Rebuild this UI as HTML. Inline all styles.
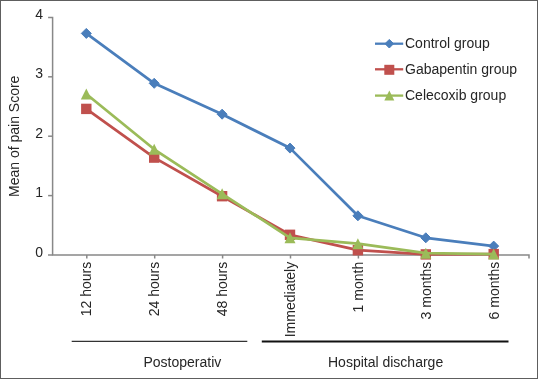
<!DOCTYPE html>
<html><head><meta charset="utf-8"><style>
html,body{margin:0;padding:0;background:#fff;}
body{width:538px;height:379px;overflow:hidden;position:relative;}
svg{position:absolute;left:0;top:0;will-change:transform;}
text{font-family:"Liberation Sans",sans-serif;fill:#262626;}
</style></head><body>
<svg width="538" height="379" viewBox="0 0 538 379">
<rect x="0.5" y="0.5" width="537" height="378" fill="#fff" stroke="#5e5e5e" stroke-width="1"/>
<path d="M48.1 17.4H52.6V255.0H529V258.5" fill="none" stroke="#888" stroke-width="1.5"/>
<path d="M48.1 195.6H52.6" stroke="#888" stroke-width="1.5"/>
<path d="M48.1 136.2H52.6" stroke="#888" stroke-width="1.5"/>
<path d="M48.1 76.8H52.6" stroke="#888" stroke-width="1.5"/>
<path d="M48 255.0H52.6" stroke="#888" stroke-width="1.5"/>
<path d="M86.8 255.0V258.5" stroke="#888" stroke-width="1.5"/>
<path d="M154.7 255.0V258.5" stroke="#888" stroke-width="1.5"/>
<path d="M222.6 255.0V258.5" stroke="#888" stroke-width="1.5"/>
<path d="M290.5 255.0V258.5" stroke="#888" stroke-width="1.5"/>
<path d="M358.4 255.0V258.5" stroke="#888" stroke-width="1.5"/>
<path d="M426.3 255.0V258.5" stroke="#888" stroke-width="1.5"/>
<path d="M494.2 255.0V258.5" stroke="#888" stroke-width="1.5"/>
<text x="43" y="256.6" text-anchor="end" font-size="14">0</text>
<text x="43" y="197.2" text-anchor="end" font-size="14">1</text>
<text x="43" y="137.8" text-anchor="end" font-size="14">2</text>
<text x="43" y="78.4" text-anchor="end" font-size="14">3</text>
<text x="43" y="19.0" text-anchor="end" font-size="14">4</text>
<text transform="translate(19.2 136.3) rotate(-90)" text-anchor="middle" font-size="14">Mean of pain Score</text>
<text transform="translate(91.1 261.8) rotate(-90)" text-anchor="end" font-size="14">12 hours</text>
<text transform="translate(159.0 261.8) rotate(-90)" text-anchor="end" font-size="14">24 hours</text>
<text transform="translate(226.9 261.8) rotate(-90)" text-anchor="end" font-size="14">48 hours</text>
<text transform="translate(294.8 261.8) rotate(-90)" text-anchor="end" font-size="14">Immediately</text>
<text transform="translate(362.7 261.8) rotate(-90)" text-anchor="end" font-size="14">1 month</text>
<text transform="translate(430.6 261.8) rotate(-90)" text-anchor="end" font-size="14">3 months</text>
<text transform="translate(498.5 261.8) rotate(-90)" text-anchor="end" font-size="14">6 months</text>
<polyline points="86.3,33.4 154.2,83.3 222.1,114.2 290.0,148.1 357.9,215.8 425.8,237.8 493.7,246.1" fill="none" stroke="#4A7EBB" stroke-width="2.75" stroke-linejoin="round"/>
<path d="M86.3 28.4L91.3 33.4L86.3 38.4L81.3 33.4Z" fill="#4A7EBB" stroke="#4A7EBB" stroke-width="1" stroke-linejoin="round"/>
<path d="M154.2 78.3L159.2 83.3L154.2 88.3L149.2 83.3Z" fill="#4A7EBB" stroke="#4A7EBB" stroke-width="1" stroke-linejoin="round"/>
<path d="M222.1 109.2L227.1 114.2L222.1 119.2L217.1 114.2Z" fill="#4A7EBB" stroke="#4A7EBB" stroke-width="1" stroke-linejoin="round"/>
<path d="M290.0 143.1L295.0 148.1L290.0 153.1L285.0 148.1Z" fill="#4A7EBB" stroke="#4A7EBB" stroke-width="1" stroke-linejoin="round"/>
<path d="M357.9 210.8L362.9 215.8L357.9 220.8L352.9 215.8Z" fill="#4A7EBB" stroke="#4A7EBB" stroke-width="1" stroke-linejoin="round"/>
<path d="M425.8 232.8L430.8 237.8L425.8 242.8L420.8 237.8Z" fill="#4A7EBB" stroke="#4A7EBB" stroke-width="1" stroke-linejoin="round"/>
<path d="M493.7 241.1L498.7 246.1L493.7 251.1L488.7 246.1Z" fill="#4A7EBB" stroke="#4A7EBB" stroke-width="1" stroke-linejoin="round"/>
<polyline points="86.3,108.9 154.2,157.6 222.1,196.2 290.0,234.8 357.9,250.2 425.8,254.4 493.7,254.1" fill="none" stroke="#C0504D" stroke-width="2.75" stroke-linejoin="round"/>
<rect x="81.1" y="103.7" width="10.4" height="10.4" fill="#C0504D"/>
<rect x="149.0" y="152.4" width="10.4" height="10.4" fill="#C0504D"/>
<rect x="216.9" y="191.0" width="10.4" height="10.4" fill="#C0504D"/>
<rect x="284.8" y="229.6" width="10.4" height="10.4" fill="#C0504D"/>
<rect x="352.7" y="245.0" width="10.4" height="10.4" fill="#C0504D"/>
<rect x="420.6" y="249.2" width="10.4" height="10.4" fill="#C0504D"/>
<rect x="488.5" y="248.9" width="10.4" height="10.4" fill="#C0504D"/>
<polyline points="86.3,94.0 154.2,149.3 222.1,193.8 290.0,237.8 357.9,243.7 425.8,253.2 493.7,254.1" fill="none" stroke="#9BBB59" stroke-width="2.75" stroke-linejoin="round"/>
<path d="M86.3 88.5L91.8 99.5L80.8 99.5Z" fill="#9BBB59"/>
<path d="M154.2 143.8L159.7 154.8L148.7 154.8Z" fill="#9BBB59"/>
<path d="M222.1 188.3L227.6 199.3L216.6 199.3Z" fill="#9BBB59"/>
<path d="M290.0 232.3L295.5 243.3L284.5 243.3Z" fill="#9BBB59"/>
<path d="M357.9 238.2L363.4 249.2L352.4 249.2Z" fill="#9BBB59"/>
<path d="M425.8 247.7L431.3 258.7L420.3 258.7Z" fill="#9BBB59"/>
<path d="M493.7 248.6L499.2 259.6L488.2 259.6Z" fill="#9BBB59"/>
<path d="M375 43.7H403.2" stroke="#4A7EBB" stroke-width="2.3"/>
<path d="M389.3 39.4L393.6 43.7L389.3 48.0L385.0 43.7Z" fill="#4A7EBB" stroke="#4A7EBB" stroke-width="1" stroke-linejoin="round"/>
<text x="405" y="48.2" font-size="14">Control group</text>
<path d="M375 69.3H403.2" stroke="#C0504D" stroke-width="2.3"/>
<rect x="384.3" y="64.8" width="10.0" height="10.0" fill="#C0504D"/>
<text x="405" y="73.8" font-size="14">Gabapentin group</text>
<path d="M375 95.6H403.2" stroke="#9BBB59" stroke-width="2.3"/>
<path d="M389.3 90.6L394.3 100.6L384.3 100.6Z" fill="#9BBB59"/>
<text x="405" y="100.1" font-size="14">Celecoxib group</text>
<path d="M71.7 341.4H247.3" stroke="#333" stroke-width="1.3"/>
<path d="M261.8 341.4H508.5" stroke="#111" stroke-width="2"/>
<text x="143.5" y="367.2" font-size="14">Postoperativ</text>
<text x="328" y="367.2" font-size="14">Hospital discharge</text>
</svg>
</body></html>
